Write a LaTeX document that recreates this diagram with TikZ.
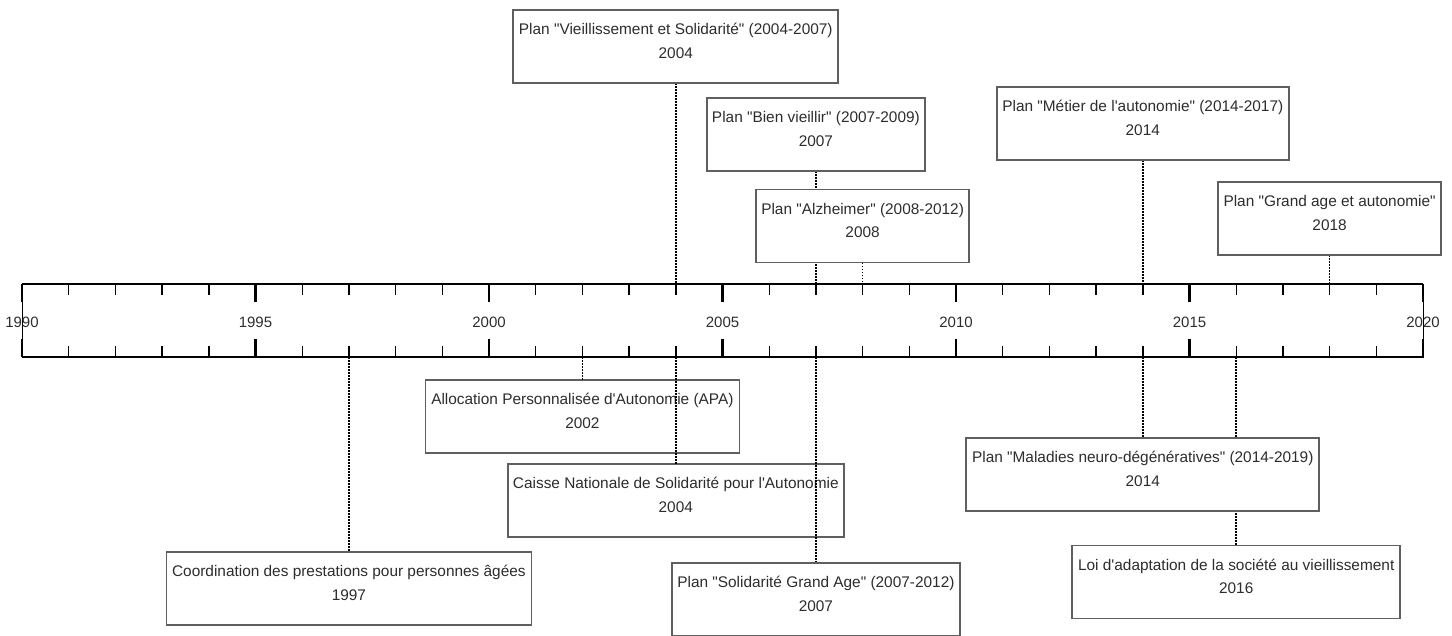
\documentclass[tikz,border=0pt]{standalone}
\usepackage{fontspec}
\setmainfont{Liberation Sans}
\pgfdeclarelayer{under}
\pgfdeclarelayer{lines}
\pgfsetlayers{under,lines,main}
\definecolor{boxline}{RGB}{95,95,95}
\definecolor{txt}{RGB}{45,45,45}
\tikzset{
  evbox/.style={draw=boxline, line width=1.7pt, fill=white, minimum height=73pt, inner sep=0pt, outer sep=0pt},
  evtext/.style={align=center, text=txt, inner sep=0pt, font=\fontsize{15.4}{23.5}\selectfont},
  conn/.style={line width=1.5pt, dash pattern=on 1.5pt off 1.5pt},
  yearlbl/.style={text=txt, inner sep=0pt, font=\fontsize{15}{18}\selectfont},
  majortick/.style={line width=2.6pt},
  minortick/.style={line width=1.4pt},
}
\newcommand\qq{\textquotedbl}
\newcommand\ap{\textquotesingle}
\newcommand\tlev[6]{%
  \node[evbox, minimum width=#4pt] (#1) at ({22+(#2-1990)*46.7},{#3+36.5}) {};
  \node[evtext] (#1t) at ([yshift=5.5pt]#1.center) {#5\\#6};
}
\begin{document}
\begin{tikzpicture}[x=1pt,y=-1pt]
\useasboundingbox (0,0) rectangle (1452,635);
% timeline
\node[draw, line width=1pt, minimum width=1401pt, minimum height=73pt, inner sep=0pt, outer sep=0pt, anchor=north west] (tl) at (22,284) {};
\draw[line width=2.6pt] (tl.north west) -- (tl.north east);
\draw[line width=2.6pt] (tl.south west) -- (tl.south east);
\foreach \i in {0,...,30}{
  \pgfmathsetmacro{\tx}{22+\i*46.7}
  \pgfmathtruncatemacro{\md}{mod(\i,5)}
  \ifnum\md=0
    \draw[majortick] (\tx,284) -- (\tx,302);
    \draw[majortick] (\tx,357) -- (\tx,339);
  \else
    \draw[minortick] (\tx,284) -- (\tx,295);
    \draw[minortick] (\tx,357) -- (\tx,346);
  \fi
}
\foreach \yr in {1990,1995,2000,2005,2010,2015,2020}{
  \node[yearlbl] (y\yr) at ({22+(\yr-1990)*46.7},322) {\yr};
}
% boxes crossed by connectors
\begin{pgfonlayer}{under}
\tlev{apa}{2002}{380}{314}{Allocation Personnalisée d\ap Autonomie (APA)}{2002}
\tlev{cnsa}{2004}{464}{336}{Caisse Nationale de Solidarité pour l\ap Autonomie}{2004}
\end{pgfonlayer}
% boxes above
\tlev{vs}{2004}{10}{325}{Plan \qq Vieillissement et Solidarité\qq\ (2004-2007)}{2004}
\tlev{bv}{2007}{98}{218}{Plan \qq Bien vieillir\qq\ (2007-2009)}{2007}
\tlev{alz}{2008}{189.5}{213}{Plan \qq Alzheimer\qq\ (2008-2012)}{2008}
\tlev{met}{2014}{87}{292}{Plan \qq Métier de l\ap autonomie\qq\ (2014-2017)}{2014}
\tlev{ga}{2018}{182}{223}{Plan \qq Grand age et autonomie\qq}{2018}
\tlev{coord}{1997}{552}{365}{Coordination des prestations pour personnes âgées}{1997}
\tlev{sga}{2007}{563}{288}{Plan \qq Solidarité Grand Age\qq\ (2007-2012)}{2007}
\tlev{mal}{2014}{438}{353}{Plan \qq Maladies neuro-dégénératives\qq\ (2014-2019)}{2014}
\tlev{loi}{2016}{545.5}{328}{Loi d\ap adaptation de la société au vieillissement}{2016}
% connectors
\begin{pgfonlayer}{lines}
\draw[conn] (vs.south) -- (vs.south |- tl.north);
\draw[conn] (bv.south) -- (bv.south |- tl.north);
\draw[conn] (alz.south) -- (alz.south |- tl.north);
\draw[conn] (met.south) -- (met.south |- tl.north);
\draw[conn] (ga.south) -- (ga.south |- tl.north);
\draw[conn] (apa.north |- tl.south) -- (apa.north);
\draw[conn] (cnsa.north |- tl.south) -- (cnsa.north);
\draw[conn] (coord.north |- tl.south) -- (coord.north);
\draw[conn] (sga.north |- tl.south) -- (sga.north);
\draw[conn] (mal.north |- tl.south) -- (mal.north);
\draw[conn] (loi.north |- tl.south) -- (loi.north);
\end{pgfonlayer}
\end{tikzpicture}
\end{document}
